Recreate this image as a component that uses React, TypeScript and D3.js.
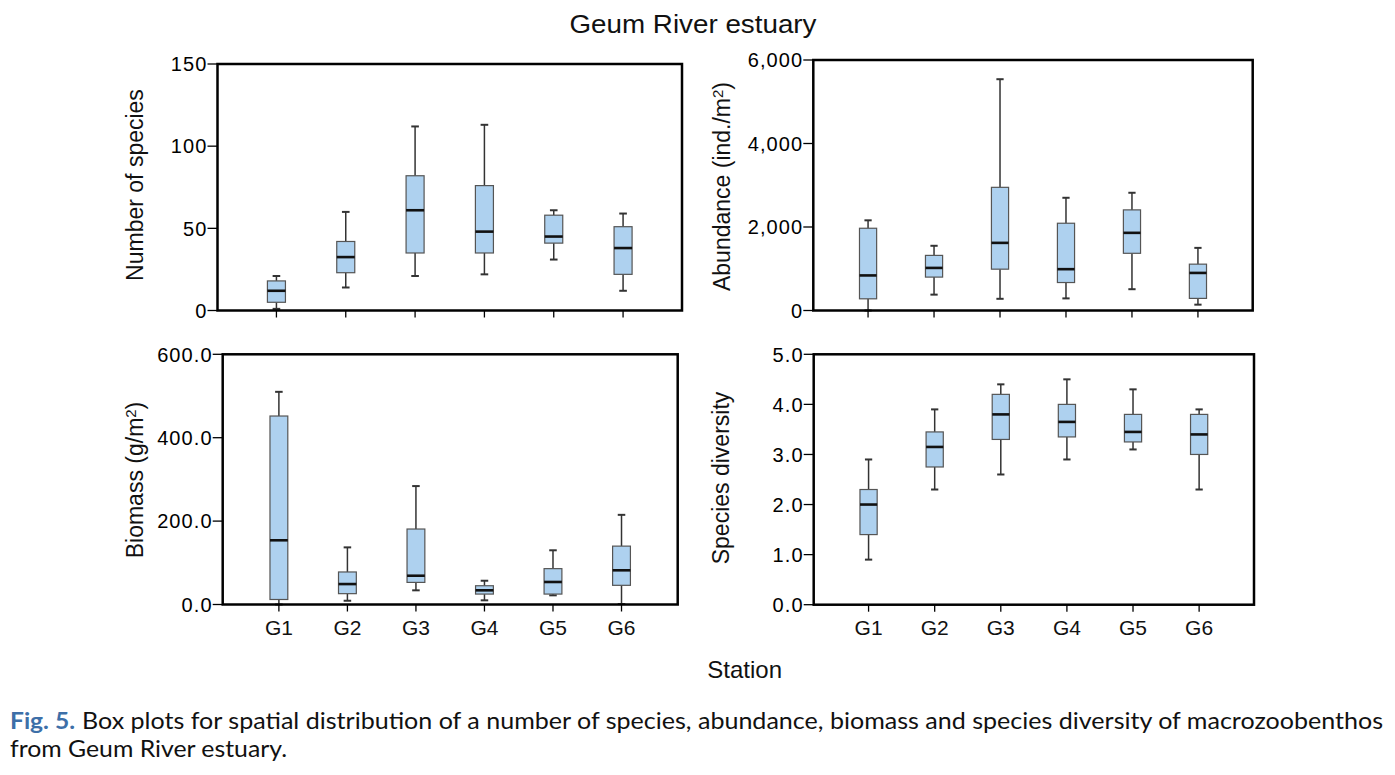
import React from "react";
import * as d3 from "d3";

const stations = ["G1", "G2", "G3", "G4", "G5", "G6"];

// Number of species
const spMin = [1, 14, 21, 22, 31, 12];
const spQ1 = [5, 23, 35, 35, 41, 22];
const spMed = [12, 32.5, 61, 48, 45, 38];
const spQ3 = [18, 42, 82, 76, 58, 51];
const spMax = [21, 60, 112, 113, 61, 59];
const spTicks = [0, 50, 100, 150];

// Abundance
const abMin = [0, 380, 280, 290, 510, 140];
const abQ1 = [280, 800, 990, 670, 1370, 290];
const abMed = [840, 1020, 1620, 990, 1860, 900];
const abQ3 = [1970, 1320, 2950, 2090, 2410, 1110];
const abMax = [2160, 1550, 5540, 2700, 2820, 1500];
const abTicks = [0, 2000, 4000, 6000];

// Biomass
const bmMin = [0, 9, 34, 10, 22, 1];
const bmQ1 = [12, 26, 53, 25, 25, 46];
const bmMed = [154, 49, 69, 34, 54, 82];
const bmQ3 = [452, 78, 181, 45, 86, 140];
const bmMax = [510, 137, 284, 57, 130, 215];
const bmTicks = [0, 200, 400, 600];

// Species diversity
const dvMin = [0.9, 2.3, 2.6, 2.9, 3.1, 2.3];
const dvQ1 = [1.4, 2.75, 3.3, 3.35, 3.25, 3.0];
const dvMed = [2.0, 3.15, 3.8, 3.65, 3.45, 3.4];
const dvQ3 = [2.3, 3.45, 4.2, 4.0, 3.8, 3.8];
const dvMax = [2.9, 3.9, 4.4, 4.5, 4.3, 3.9];
const dvTicks = [0, 1, 2, 3, 4, 5];

const FONT = "'Liberation Sans', Arial, sans-serif";
const CAPFONT = "Lato, 'Open Sans', sans-serif";

type PanelProps = {
  left: number; right: number; top: number; bottom: number;
  domainMax: number; ticks: number[]; fmt: (v: number) => string;
  mins: number[]; q1s: number[]; meds: number[]; q3s: number[]; maxs: number[];
  showX: boolean; padding: number;
};

function Panel(p: PanelProps) {
  const x = d3.scalePoint<string>().domain(stations).range([p.left, p.right]).padding(p.padding);
  const y = d3.scaleLinear().domain([0, p.domainMax]).range([p.bottom, p.top]);
  const step = x.step();
  const bw = step * 0.26;
  const cw = step * 0.11;
  return (
    <g>
      {stations.map((s, i) => {
        const cx = x(s)!;
        return (
          <g key={s}>
            <line x1={cx} x2={cx} y1={y(p.maxs[i])} y2={y(p.q3s[i])} stroke="#333" strokeWidth={1.5} />
            <line x1={cx} x2={cx} y1={y(p.q1s[i])} y2={y(p.mins[i])} stroke="#333" strokeWidth={1.5} />
            <line x1={cx - cw / 2} x2={cx + cw / 2} y1={y(p.maxs[i])} y2={y(p.maxs[i])} stroke="#333" strokeWidth={2} />
            <line x1={cx - cw / 2} x2={cx + cw / 2} y1={y(p.mins[i])} y2={y(p.mins[i])} stroke="#333" strokeWidth={2} />
            <rect x={cx - bw / 2} y={y(p.q3s[i])} width={bw} height={y(p.q1s[i]) - y(p.q3s[i])}
              fill="#aed1ef" stroke="#555" strokeWidth={1.2} />
            <line x1={cx - bw / 2} x2={cx + bw / 2} y1={y(p.meds[i])} y2={y(p.meds[i])} stroke="#111" strokeWidth={2.6} />
          </g>
        );
      })}
      <rect x={p.left} y={p.top} width={p.right - p.left} height={p.bottom - p.top} fill="none" stroke="#000" strokeWidth={2.5} />
      {p.ticks.map((t) => (
        <g key={t}>
          <line x1={p.left - 10} x2={p.left} y1={y(t)} y2={y(t)} stroke="#000" strokeWidth={1.3} />
          <text x={p.left - 10} y={y(t)} dy="0.36em" textAnchor="end" fontSize={20} letterSpacing={1.1}
            fontFamily={FONT} fill="#000">{p.fmt(t)}</text>
        </g>
      ))}
      {stations.map((s) => (
        <g key={s}>
          <line x1={x(s)} x2={x(s)} y1={p.bottom} y2={p.bottom + 7} stroke="#000" strokeWidth={1.3} />
          {p.showX && (
            <text x={x(s)} y={635} textAnchor="middle" fontSize={21} fontFamily={FONT} fill="#111">{s}</text>
          )}
        </g>
      ))}
    </g>
  );
}

export default function App() {
  const intFmt = d3.format(",");
  const dec1 = d3.format(".1f");
  return (
    <svg width={1395} height={775} style={{ position: "absolute", left: 0, top: 0, background: "#fff" }}>
      <rect width={1395} height={775} fill="#fff" />
      <text x={693} y={33} textAnchor="middle" fontSize={26} fontFamily={FONT} fill="#111"
        textLength={247} lengthAdjust="spacingAndGlyphs">Geum River estuary</text>

      <Panel left={217.5} right={682} top={64} bottom={310.5} domainMax={150} ticks={spTicks} fmt={(v) => String(v)}
        mins={spMin} q1s={spQ1} meds={spMed} q3s={spQ3} maxs={spMax} showX={false} padding={0.85} />
      <Panel left={813.3} right={1252.7} top={60} bottom={310.5} domainMax={6000} ticks={abTicks} fmt={intFmt}
        mins={abMin} q1s={abQ1} meds={abMed} q3s={abQ3} maxs={abMax} showX={false} padding={0.83} />
      <Panel left={222.7} right={677.7} top={354.3} bottom={604.5} domainMax={600} ticks={bmTicks} fmt={dec1}
        mins={bmMin} q1s={bmQ1} meds={bmMed} q3s={bmQ3} maxs={bmMax} showX={true} padding={0.82} />
      <Panel left={813.7} right={1254} top={354.3} bottom={604.7} domainMax={5} ticks={dvTicks} fmt={dec1}
        mins={dvMin} q1s={dvQ1} meds={dvMed} q3s={dvQ3} maxs={dvMax} showX={true} padding={0.83} />

      <text transform="translate(143,185) rotate(-90)" textAnchor="middle" fontSize={23} fontFamily={FONT} fill="#111">
        Number of species
      </text>
      <text transform="translate(730,186.5) rotate(-90)" textAnchor="middle" fontSize={23} fontFamily={FONT} fill="#111">
        Abundance (ind./m<tspan dy="-0.45em" fontSize={15}>2</tspan><tspan dy="0.3em">)</tspan>
      </text>
      <text transform="translate(143,480) rotate(-90)" textAnchor="middle" fontSize={23} fontFamily={FONT} fill="#111">
        Biomass (g/m<tspan dy="-0.45em" fontSize={15}>2</tspan><tspan dy="0.3em">)</tspan>
      </text>
      <text transform="translate(729,478) rotate(-90)" textAnchor="middle" fontSize={23} fontFamily={FONT} fill="#111">
        Species diversity
      </text>

      <text x={744.7} y={678} textAnchor="middle" fontSize={24} fontFamily={FONT} fill="#111">Station</text>

      <text x={10} y={729} fontSize={23} fontWeight={700} fontFamily={CAPFONT} fill="#3d6fa8"
        textLength={65} lengthAdjust="spacingAndGlyphs">Fig. 5.</text>
      <text x={82} y={729} fontSize={23} fontFamily={CAPFONT} fill="#111"
        textLength={1301} lengthAdjust="spacingAndGlyphs">
        Box plots for spatial distribution of a number of species, abundance, biomass and species diversity of macrozoobenthos
      </text>
      <text x={10} y={757} fontSize={23} fontFamily={CAPFONT} fill="#111"
        textLength={277} lengthAdjust="spacingAndGlyphs">
        from Geum River estuary.
      </text>
    </svg>
  );
}
